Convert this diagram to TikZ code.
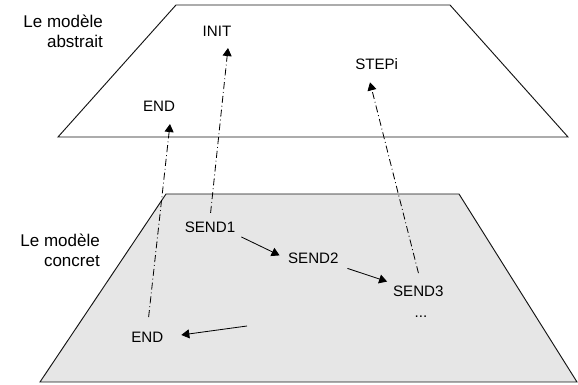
\documentclass[tikz,border=0pt]{standalone}
\usepackage{fontspec}
\setmainfont{Liberation Sans}
\usepackage{tikz}
\usetikzlibrary{arrows,arrows.meta}
\definecolor{ebene}{RGB}{230,230,230}
\definecolor{rand}{RGB}{20,20,20}
\tikzset{
    titel/.style={align=right, anchor=east, inner sep=0pt, font=\fontsize{14.5}{17}\selectfont},
    zustand/.style={inner sep=2.5pt, font=\fontsize{12.9}{15}\selectfont},
    pfeil/.style={-{Triangle[length=0.24cm,width=0.27cm]}, line width=0.7pt},
    bezug/.style={pfeil, dash pattern=on 6pt off 2.5pt on 0.8pt off 2.5pt},
}

\begin{document}
\begin{tikzpicture}
    \useasboundingbox (0,0) rectangle (17.34,11.55);

    % \draw[help lines] (0,0) grid (17,11);

        \draw[rand, line width=0.8pt] (5.28,11.40) -- (13.50,11.40) -- (17.04,7.44) -- (1.74,7.44) -- cycle;
        \draw[rand, line width=0.8pt, fill=ebene] (4.98,5.73) -- (13.77,5.73) -- (17.31,0.09) -- (1.20,0.09) -- cycle;

        \node[titel] (abstrait) at (3.09,10.60) {Le modèle\\abstrait};
        \node[titel] (concret) at (3.00,4.05) {Le modèle\\concret};

        \node[zustand] (init) at (6.51,10.62) {INIT};
        \node[zustand] (endabs) at (4.77,8.37) {END};
        \node[zustand] (stepi) at (11.30,9.63) {STEPi};

        \node[zustand] (send1) at (6.30,4.74) {SEND1};
        \node[zustand] (send2) at (9.40,3.81) {SEND2};
        \node[zustand] (send3) at (12.55,2.82) {SEND3};
        \node[zustand] (suite) at (12.63,2.04) {...};
        \node[zustand] (endcon) at (4.42,1.44) {END};
        \coordinate (retour) at (7.41,1.77);

        \draw[pfeil, shorten <=0.1cm, shorten >=0.18cm] (send1.south east) -- (send2.west);
        \draw[pfeil, shorten <=0.18cm, shorten >=0.09cm] (send2.south east) -- (send3.north west);
        \draw[pfeil, shorten >=0.45cm] (retour) -- (endcon.east);

        \draw[bezug, shorten <=0.17cm] (send1.north) -- ([xshift=0.33cm,yshift=-0.26cm]init.south);
        \draw[bezug, shorten <=0.35cm] (endcon.north) -- ([xshift=0.33cm,yshift=-0.29cm]endabs.south);
        \draw[bezug, shorten <=0.29cm] ([xshift=0.075cm]send3.north) -- ([xshift=-0.2cm,yshift=-0.29cm]stepi.south);

\end{tikzpicture}
\end{document}
